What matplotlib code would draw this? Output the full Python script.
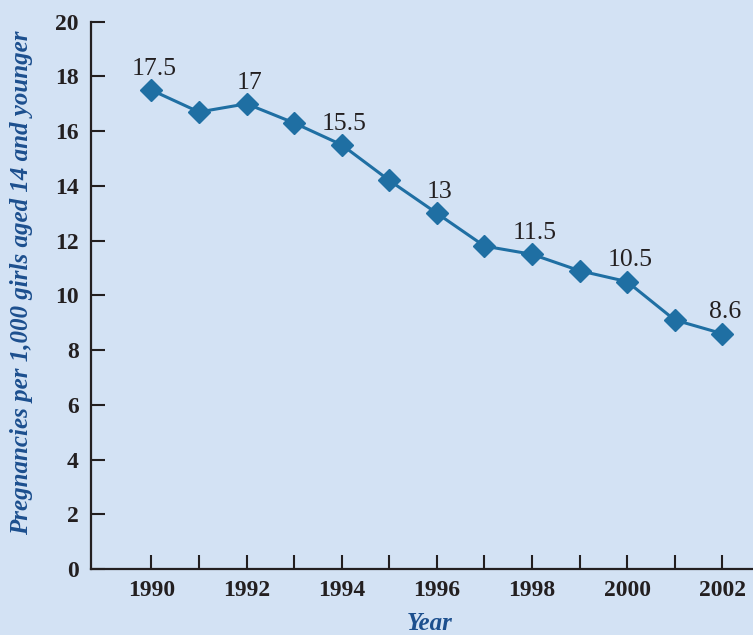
import matplotlib
matplotlib.use("Agg")
import matplotlib.pyplot as plt

# Pregnancy rate per 1,000 girls aged 14 and younger
years = [1990, 1991, 1992, 1993, 1994, 1995, 1996, 1997, 1998, 1999, 2000, 2001, 2002]
rates = [17.5, 16.7, 17.0, 16.3, 15.5, 14.2, 13.0, 11.8, 11.5, 10.9, 10.5, 9.1, 8.6]

# Points that carry a value label
label_years = [1990, 1992, 1994, 1996, 1998, 2000, 2002]
label_texts = ["17.5", "17", "15.5", "13", "11.5", "10.5", "8.6"]

x_ticks = [1990, 1992, 1994, 1996, 1998, 2000, 2002]
y_ticks = [0, 2, 4, 6, 8, 10, 12, 14, 16, 18, 20]

bg = "#d3e2f4"
line_color = "#1f6fa3"
title_blue = "#1c4f8e"
ink = "#231f20"
serif = ["Liberation Serif", "DejaVu Serif"]

fig = plt.figure(figsize=(7.53, 6.35), dpi=100, facecolor=bg)
ax = fig.add_axes([91 / 753, 66 / 635, 1 - 91 / 753, (569 - 21.7) / 635])
ax.set_facecolor(bg)

ax.plot(years, rates, color=line_color, lw=2.2, marker="D", ms=11,
        markeredgecolor=line_color, zorder=3, clip_on=False)

for yr, txt in zip(label_years, label_texts):
    val = rates[years.index(yr)]
    ax.annotate(txt, (yr, val), xytext=(2, 11), textcoords="offset points",
                ha="center", va="baseline", fontsize=18.5, color=ink,
                family=serif)

ax.set_xlim(1988.73, 2002.645)
ax.set_ylim(0, 20)
ax.set_xticks(x_ticks)
ax.set_xticks(range(1991, 2003, 2), minor=True)
ax.set_yticks(y_ticks)
ax.set_yticklabels([str(v) for v in y_ticks])
ax.set_xticklabels([str(v) for v in x_ticks])

for spine in ["top", "right"]:
    ax.spines[spine].set_visible(False)
for spine in ["left", "bottom"]:
    ax.spines[spine].set_linewidth(1.6)
    ax.spines[spine].set_color(ink)

ax.tick_params(axis="both", which="both", direction="in", length=10,
               width=1.5, color=ink)
ax.tick_params(axis="x", which="major", pad=8)
ax.tick_params(axis="y", which="major", pad=9)
for lab in ax.get_xticklabels() + ax.get_yticklabels():
    lab.set_family(serif)
    lab.set_fontweight("bold")
    lab.set_fontsize(17)
    lab.set_color(ink)

fig.text(22 / 753, 1 - 283 / 635, "Pregnancies per 1,000 girls aged 14 and younger",
         rotation=90, ha="center", va="center", fontsize=18, fontweight="bold",
         fontstyle="italic", color=title_blue, family=serif)
fig.text(430 / 753, 1 - 624 / 635, "Year", ha="center", va="center",
         fontsize=18, fontweight="bold", fontstyle="italic", color=title_blue,
         family=serif)

fig.savefig("out.png", dpi=100, facecolor=bg)
